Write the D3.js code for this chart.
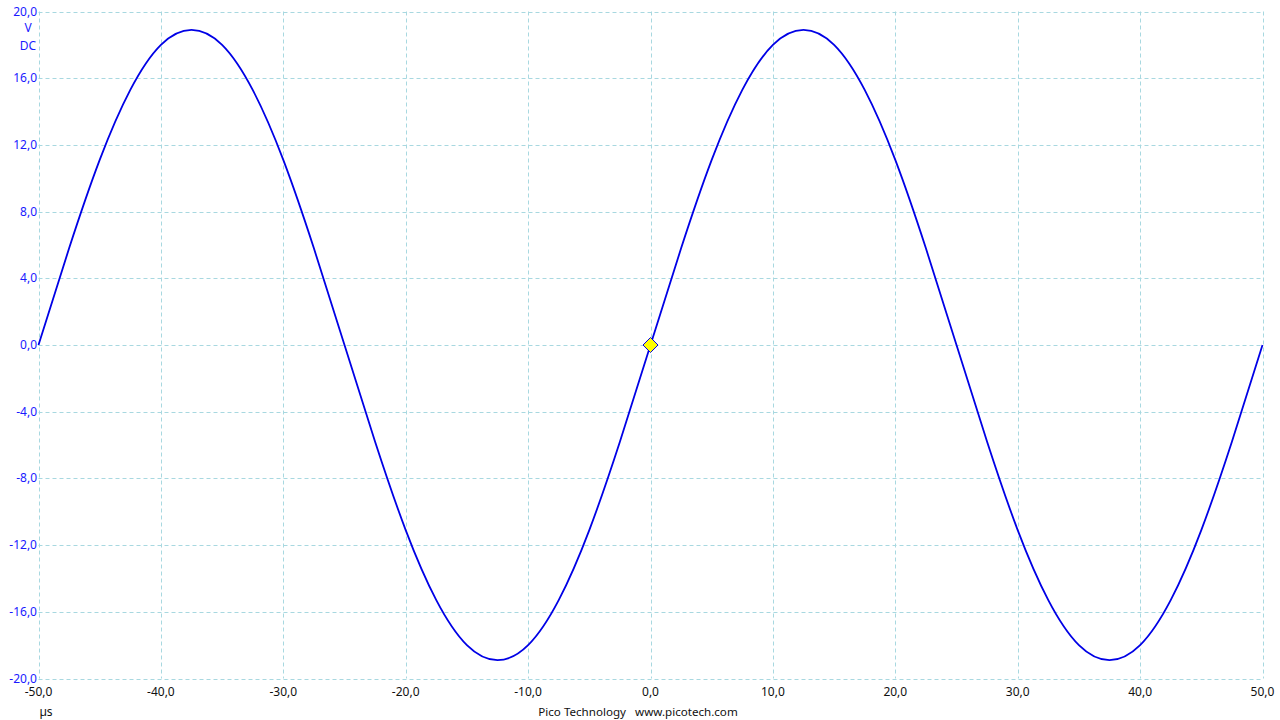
<!DOCTYPE html>
<html>
<head>
<meta charset="utf-8">
<script src="https://cdn.jsdelivr.net/npm/d3@7"></script>
<style>
html,body{margin:0;padding:0;background:#fff;}
svg{display:block;}
text{font-family:"Noto Sans","DejaVu Sans",sans-serif;font-size:12px;}
</style>
</head>
<body>
<svg id="chart" width="1280" height="720"></svg>
<script>
// Time (µs) samples and voltage (V)
const times = [-50,-47.5,-45,-42.5,-40,-37.5,-35,-32.5,-30,-27.5,-25,-22.5,-20,-17.5,-15,-12.5,-10,-7.5,-5,-2.5,
  0,2.5,5,7.5,10,12.5,15,17.5,20,22.5,25,27.5,30,32.5,35,37.5,40,42.5,45,47.5,50];
const volts = [0,5.8,11.1,15.3,18.0,18.9,18.0,15.3,11.1,5.8,0,-5.8,-11.1,-15.3,-18.0,-18.9,-18.0,-15.3,-11.1,-5.8,
  0,5.8,11.1,15.3,18.0,18.9,18.0,15.3,11.1,5.8,0,-5.8,-11.1,-15.3,-18.0,-18.9,-18.0,-15.3,-11.1,-5.8,0];
const xTicks = [-50,-40,-30,-20,-10,0,10,20,30,40,50];
const yTicks = [-20,-16,-12,-8,-4,0,4,8,12,16,20];
const triggerPoint = [0, 0];
const yUnit = ["V","DC"];
const xUnit = "µs";
const footer = "Pico Technology   www.picotech.com";

const svg = d3.select("#chart");
const L = 38.5, R = 1262.5, T = 11.5, B = 678.5;
const x = d3.scaleLinear().domain([-50,50]).range([L,R]);
const y = d3.scaleLinear().domain([-20,20]).range([B,T]);
const fmt = d => d.toFixed(1).replace(".", ",");

const grid = svg.append("g").attr("stroke","#a8d8e0").attr("stroke-width",1).attr("stroke-dasharray","4,3");
grid.selectAll("line.v").data(xTicks).enter().append("line")
  .attr("x1",d=>Math.round(x(d))+0.5).attr("x2",d=>Math.round(x(d))+0.5).attr("y1",T).attr("y2",B);
grid.selectAll("line.h").data(yTicks).enter().append("line")
  .attr("y1",d=>Math.round(y(d))+0.5).attr("y2",d=>Math.round(y(d))+0.5).attr("x1",L).attr("x2",R);

// y axis labels
svg.append("g").selectAll("text").data(yTicks).enter().append("text")
  .attr("x",37).attr("y",d=>y(d)+4).attr("text-anchor","end").attr("fill","#1a1aff").text(fmt);
svg.append("text").attr("x",28).attr("y",32).attr("text-anchor","middle").attr("fill","#1a1aff").text(yUnit[0]);
svg.append("text").attr("x",28).attr("y",50).attr("text-anchor","middle").attr("fill","#1a1aff").text(yUnit[1]);

// x axis labels
svg.append("g").selectAll("text").data(xTicks).enter().append("text")
  .attr("x",d=>x(d)).attr("y",696).attr("text-anchor","middle").attr("fill","#111").text(fmt);
svg.append("text").attr("x",46).attr("y",716).attr("text-anchor","middle").attr("fill","#111").text(xUnit);
svg.append("text").attr("x",638).attr("y",716).attr("text-anchor","middle").attr("fill","#111")
  .style("font-size","11.6px").style("white-space","pre").text(footer);

// trace
const pts = times.map((t,i)=>[t,volts[i]]);
const line = d3.line().x(d=>x(d[0])).y(d=>y(d[1])).curve(d3.curveNatural);
svg.append("path").datum(pts).attr("d",line).attr("fill","none").attr("stroke","#0000e6").attr("stroke-width",1.8);

// trigger marker
const cx = x(triggerPoint[0]), cy = y(triggerPoint[1]);
svg.append("path").attr("d",`M${cx},${cy-7.5}L${cx+7.5},${cy}L${cx},${cy+7.5}L${cx-7.5},${cy}Z`)
  .attr("fill","#ffff00").attr("stroke","#0000e6").attr("stroke-width",1);
</script>
</body>
</html>
